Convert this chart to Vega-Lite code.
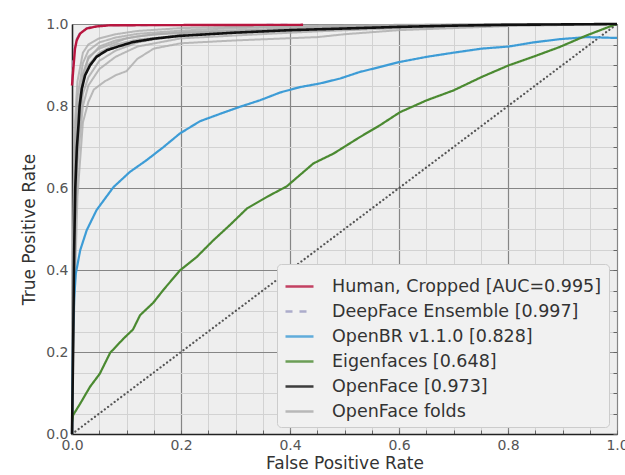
{
  "$schema": "https://vega.github.io/schema/vega-lite/v6.json",
  "width": 545,
  "height": 410,
  "autosize": {"type": "none"},
  "padding": {"left": 72, "top": 24, "right": 8, "bottom": 41},
  "background": "#ffffff",
  "config": {
    "font": "DejaVu Sans",
    "view": {"fill": "#eeeeee", "stroke": "#c8c8c8", "strokeWidth": 1},
    "axis": {"labelFont": "DejaVu Sans", "titleFont": "DejaVu Sans"},
    "legend": {
      "orient": "none",
      "legendX": 205,
      "legendY": 240,
      "padding": 7,
      "fillColor": "#f1f1f1",
      "strokeColor": "#cccccc",
      "cornerRadius": 4,
      "symbolType": "stroke",
      "symbolSize": 784,
      "symbolStrokeWidth": 2.5,
      "labelFontSize": 17.5,
      "labelColor": "#333333",
      "labelFont": "DejaVu Sans",
      "labelOffset": 17,
      "rowPadding": 1,
      "labelLimit": 400
    }
  },
  "datasets": {
    "diag": [{"fpr": 0, "tpr": 0}, {"fpr": 1, "tpr": 1}],
    "curves": [
      {"model": "OpenFace folds", "fold": 1, "fpr": 0, "tpr": 0},
      {"model": "OpenFace folds", "fold": 1, "fpr": 0.002, "tpr": 0.5},
      {"model": "OpenFace folds", "fold": 1, "fpr": 0.005, "tpr": 0.75},
      {"model": "OpenFace folds", "fold": 1, "fpr": 0.01, "tpr": 0.86},
      {"model": "OpenFace folds", "fold": 1, "fpr": 0.02, "tpr": 0.93},
      {"model": "OpenFace folds", "fold": 1, "fpr": 0.03, "tpr": 0.95},
      {"model": "OpenFace folds", "fold": 1, "fpr": 0.05, "tpr": 0.965},
      {"model": "OpenFace folds", "fold": 1, "fpr": 0.08, "tpr": 0.975},
      {"model": "OpenFace folds", "fold": 1, "fpr": 0.12, "tpr": 0.983},
      {"model": "OpenFace folds", "fold": 1, "fpr": 0.2, "tpr": 0.99},
      {"model": "OpenFace folds", "fold": 1, "fpr": 0.3, "tpr": 0.993},
      {"model": "OpenFace folds", "fold": 1, "fpr": 0.45, "tpr": 0.996},
      {"model": "OpenFace folds", "fold": 1, "fpr": 0.6, "tpr": 0.998},
      {"model": "OpenFace folds", "fold": 1, "fpr": 0.8, "tpr": 1},
      {"model": "OpenFace folds", "fold": 1, "fpr": 1, "tpr": 1},
      {"model": "OpenFace folds", "fold": 2, "fpr": 0, "tpr": 0},
      {"model": "OpenFace folds", "fold": 2, "fpr": 0.002, "tpr": 0.45},
      {"model": "OpenFace folds", "fold": 2, "fpr": 0.005, "tpr": 0.7},
      {"model": "OpenFace folds", "fold": 2, "fpr": 0.01, "tpr": 0.82},
      {"model": "OpenFace folds", "fold": 2, "fpr": 0.02, "tpr": 0.905},
      {"model": "OpenFace folds", "fold": 2, "fpr": 0.03, "tpr": 0.935},
      {"model": "OpenFace folds", "fold": 2, "fpr": 0.05, "tpr": 0.955},
      {"model": "OpenFace folds", "fold": 2, "fpr": 0.08, "tpr": 0.967},
      {"model": "OpenFace folds", "fold": 2, "fpr": 0.12, "tpr": 0.976},
      {"model": "OpenFace folds", "fold": 2, "fpr": 0.2, "tpr": 0.984},
      {"model": "OpenFace folds", "fold": 2, "fpr": 0.3, "tpr": 0.99},
      {"model": "OpenFace folds", "fold": 2, "fpr": 0.45, "tpr": 0.994},
      {"model": "OpenFace folds", "fold": 2, "fpr": 0.6, "tpr": 0.997},
      {"model": "OpenFace folds", "fold": 2, "fpr": 0.8, "tpr": 0.999},
      {"model": "OpenFace folds", "fold": 2, "fpr": 1, "tpr": 1},
      {"model": "OpenFace folds", "fold": 3, "fpr": 0, "tpr": 0},
      {"model": "OpenFace folds", "fold": 3, "fpr": 0.002, "tpr": 0.4},
      {"model": "OpenFace folds", "fold": 3, "fpr": 0.005, "tpr": 0.62},
      {"model": "OpenFace folds", "fold": 3, "fpr": 0.01, "tpr": 0.78},
      {"model": "OpenFace folds", "fold": 3, "fpr": 0.02, "tpr": 0.88},
      {"model": "OpenFace folds", "fold": 3, "fpr": 0.03, "tpr": 0.915},
      {"model": "OpenFace folds", "fold": 3, "fpr": 0.05, "tpr": 0.945},
      {"model": "OpenFace folds", "fold": 3, "fpr": 0.08, "tpr": 0.96},
      {"model": "OpenFace folds", "fold": 3, "fpr": 0.12, "tpr": 0.97},
      {"model": "OpenFace folds", "fold": 3, "fpr": 0.2, "tpr": 0.98},
      {"model": "OpenFace folds", "fold": 3, "fpr": 0.3, "tpr": 0.985},
      {"model": "OpenFace folds", "fold": 3, "fpr": 0.45, "tpr": 0.99},
      {"model": "OpenFace folds", "fold": 3, "fpr": 0.6, "tpr": 0.995},
      {"model": "OpenFace folds", "fold": 3, "fpr": 0.8, "tpr": 0.999},
      {"model": "OpenFace folds", "fold": 3, "fpr": 1, "tpr": 1},
      {"model": "OpenFace folds", "fold": 4, "fpr": 0, "tpr": 0},
      {"model": "OpenFace folds", "fold": 4, "fpr": 0.002, "tpr": 0.3},
      {"model": "OpenFace folds", "fold": 4, "fpr": 0.005, "tpr": 0.5},
      {"model": "OpenFace folds", "fold": 4, "fpr": 0.01, "tpr": 0.7},
      {"model": "OpenFace folds", "fold": 4, "fpr": 0.02, "tpr": 0.83},
      {"model": "OpenFace folds", "fold": 4, "fpr": 0.03, "tpr": 0.87},
      {"model": "OpenFace folds", "fold": 4, "fpr": 0.05, "tpr": 0.91},
      {"model": "OpenFace folds", "fold": 4, "fpr": 0.08, "tpr": 0.935},
      {"model": "OpenFace folds", "fold": 4, "fpr": 0.12, "tpr": 0.955},
      {"model": "OpenFace folds", "fold": 4, "fpr": 0.2, "tpr": 0.975},
      {"model": "OpenFace folds", "fold": 4, "fpr": 0.3, "tpr": 0.982},
      {"model": "OpenFace folds", "fold": 4, "fpr": 0.45, "tpr": 0.99},
      {"model": "OpenFace folds", "fold": 4, "fpr": 0.6, "tpr": 0.994},
      {"model": "OpenFace folds", "fold": 4, "fpr": 0.8, "tpr": 0.998},
      {"model": "OpenFace folds", "fold": 4, "fpr": 1, "tpr": 1},
      {"model": "OpenFace folds", "fold": 5, "fpr": 0, "tpr": 0},
      {"model": "OpenFace folds", "fold": 5, "fpr": 0.002, "tpr": 0.25},
      {"model": "OpenFace folds", "fold": 5, "fpr": 0.005, "tpr": 0.45},
      {"model": "OpenFace folds", "fold": 5, "fpr": 0.01, "tpr": 0.66},
      {"model": "OpenFace folds", "fold": 5, "fpr": 0.02, "tpr": 0.8},
      {"model": "OpenFace folds", "fold": 5, "fpr": 0.03, "tpr": 0.85},
      {"model": "OpenFace folds", "fold": 5, "fpr": 0.05, "tpr": 0.89},
      {"model": "OpenFace folds", "fold": 5, "fpr": 0.08, "tpr": 0.92},
      {"model": "OpenFace folds", "fold": 5, "fpr": 0.12, "tpr": 0.945},
      {"model": "OpenFace folds", "fold": 5, "fpr": 0.2, "tpr": 0.965},
      {"model": "OpenFace folds", "fold": 5, "fpr": 0.3, "tpr": 0.972},
      {"model": "OpenFace folds", "fold": 5, "fpr": 0.45, "tpr": 0.982},
      {"model": "OpenFace folds", "fold": 5, "fpr": 0.6, "tpr": 0.99},
      {"model": "OpenFace folds", "fold": 5, "fpr": 0.8, "tpr": 0.997},
      {"model": "OpenFace folds", "fold": 5, "fpr": 1, "tpr": 1},
      {"model": "OpenFace folds", "fold": 6, "fpr": 0, "tpr": 0},
      {"model": "OpenFace folds", "fold": 6, "fpr": 0.002, "tpr": 0.2},
      {"model": "OpenFace folds", "fold": 6, "fpr": 0.005, "tpr": 0.35},
      {"model": "OpenFace folds", "fold": 6, "fpr": 0.01, "tpr": 0.58},
      {"model": "OpenFace folds", "fold": 6, "fpr": 0.02, "tpr": 0.76},
      {"model": "OpenFace folds", "fold": 6, "fpr": 0.03, "tpr": 0.81},
      {"model": "OpenFace folds", "fold": 6, "fpr": 0.04, "tpr": 0.84},
      {"model": "OpenFace folds", "fold": 6, "fpr": 0.06, "tpr": 0.86},
      {"model": "OpenFace folds", "fold": 6, "fpr": 0.08, "tpr": 0.875},
      {"model": "OpenFace folds", "fold": 6, "fpr": 0.1, "tpr": 0.885},
      {"model": "OpenFace folds", "fold": 6, "fpr": 0.12, "tpr": 0.915},
      {"model": "OpenFace folds", "fold": 6, "fpr": 0.15, "tpr": 0.94},
      {"model": "OpenFace folds", "fold": 6, "fpr": 0.2, "tpr": 0.953},
      {"model": "OpenFace folds", "fold": 6, "fpr": 0.3, "tpr": 0.96},
      {"model": "OpenFace folds", "fold": 6, "fpr": 0.45, "tpr": 0.968},
      {"model": "OpenFace folds", "fold": 6, "fpr": 0.5, "tpr": 0.975},
      {"model": "OpenFace folds", "fold": 6, "fpr": 0.6, "tpr": 0.985},
      {"model": "OpenFace folds", "fold": 6, "fpr": 0.8, "tpr": 0.995},
      {"model": "OpenFace folds", "fold": 6, "fpr": 1, "tpr": 1},
      {"model": "OpenFace folds", "fold": 7, "fpr": 0, "tpr": 0},
      {"model": "OpenFace folds", "fold": 7, "fpr": 0.002, "tpr": 0.35},
      {"model": "OpenFace folds", "fold": 7, "fpr": 0.005, "tpr": 0.6},
      {"model": "OpenFace folds", "fold": 7, "fpr": 0.01, "tpr": 0.76},
      {"model": "OpenFace folds", "fold": 7, "fpr": 0.02, "tpr": 0.86},
      {"model": "OpenFace folds", "fold": 7, "fpr": 0.03, "tpr": 0.9},
      {"model": "OpenFace folds", "fold": 7, "fpr": 0.05, "tpr": 0.93},
      {"model": "OpenFace folds", "fold": 7, "fpr": 0.08, "tpr": 0.95},
      {"model": "OpenFace folds", "fold": 7, "fpr": 0.12, "tpr": 0.962},
      {"model": "OpenFace folds", "fold": 7, "fpr": 0.2, "tpr": 0.972},
      {"model": "OpenFace folds", "fold": 7, "fpr": 0.3, "tpr": 0.978},
      {"model": "OpenFace folds", "fold": 7, "fpr": 0.45, "tpr": 0.985},
      {"model": "OpenFace folds", "fold": 7, "fpr": 0.6, "tpr": 0.992},
      {"model": "OpenFace folds", "fold": 7, "fpr": 0.8, "tpr": 0.998},
      {"model": "OpenFace folds", "fold": 7, "fpr": 1, "tpr": 1},
      {"model": "OpenFace folds", "fold": 8, "fpr": 0, "tpr": 0},
      {"model": "OpenFace folds", "fold": 8, "fpr": 0.002, "tpr": 0.38},
      {"model": "OpenFace folds", "fold": 8, "fpr": 0.005, "tpr": 0.55},
      {"model": "OpenFace folds", "fold": 8, "fpr": 0.01, "tpr": 0.72},
      {"model": "OpenFace folds", "fold": 8, "fpr": 0.02, "tpr": 0.87},
      {"model": "OpenFace folds", "fold": 8, "fpr": 0.03, "tpr": 0.92},
      {"model": "OpenFace folds", "fold": 8, "fpr": 0.05, "tpr": 0.94},
      {"model": "OpenFace folds", "fold": 8, "fpr": 0.07, "tpr": 0.95},
      {"model": "OpenFace folds", "fold": 8, "fpr": 0.1, "tpr": 0.965},
      {"model": "OpenFace folds", "fold": 8, "fpr": 0.15, "tpr": 0.975},
      {"model": "OpenFace folds", "fold": 8, "fpr": 0.2, "tpr": 0.978},
      {"model": "OpenFace folds", "fold": 8, "fpr": 0.3, "tpr": 0.983},
      {"model": "OpenFace folds", "fold": 8, "fpr": 0.45, "tpr": 0.99},
      {"model": "OpenFace folds", "fold": 8, "fpr": 0.6, "tpr": 0.995},
      {"model": "OpenFace folds", "fold": 8, "fpr": 0.8, "tpr": 0.999},
      {"model": "OpenFace folds", "fold": 8, "fpr": 1, "tpr": 1},

      {"model": "DeepFace Ensemble [0.997]", "fold": 0, "fpr": 0, "tpr": 0.86},
      {"model": "DeepFace Ensemble [0.997]", "fold": 0, "fpr": 0.002, "tpr": 0.91},
      {"model": "DeepFace Ensemble [0.997]", "fold": 0, "fpr": 0.0055, "tpr": 0.945},
      {"model": "DeepFace Ensemble [0.997]", "fold": 0, "fpr": 0.0086, "tpr": 0.963},
      {"model": "DeepFace Ensemble [0.997]", "fold": 0, "fpr": 0.015, "tpr": 0.979},
      {"model": "DeepFace Ensemble [0.997]", "fold": 0, "fpr": 0.027, "tpr": 0.99},
      {"model": "DeepFace Ensemble [0.997]", "fold": 0, "fpr": 0.045, "tpr": 0.995},
      {"model": "DeepFace Ensemble [0.997]", "fold": 0, "fpr": 0.07, "tpr": 0.997},
      {"model": "DeepFace Ensemble [0.997]", "fold": 0, "fpr": 0.4, "tpr": 0.998},

      {"model": "OpenBR v1.1.0 [0.828]", "fold": 0, "fpr": 0, "tpr": 0},
      {"model": "OpenBR v1.1.0 [0.828]", "fold": 0, "fpr": 0.002, "tpr": 0.25},
      {"model": "OpenBR v1.1.0 [0.828]", "fold": 0, "fpr": 0.004, "tpr": 0.33},
      {"model": "OpenBR v1.1.0 [0.828]", "fold": 0, "fpr": 0.007, "tpr": 0.391},
      {"model": "OpenBR v1.1.0 [0.828]", "fold": 0, "fpr": 0.015, "tpr": 0.448},
      {"model": "OpenBR v1.1.0 [0.828]", "fold": 0, "fpr": 0.027, "tpr": 0.497},
      {"model": "OpenBR v1.1.0 [0.828]", "fold": 0, "fpr": 0.045, "tpr": 0.546},
      {"model": "OpenBR v1.1.0 [0.828]", "fold": 0, "fpr": 0.076, "tpr": 0.602},
      {"model": "OpenBR v1.1.0 [0.828]", "fold": 0, "fpr": 0.106, "tpr": 0.639},
      {"model": "OpenBR v1.1.0 [0.828]", "fold": 0, "fpr": 0.137, "tpr": 0.668},
      {"model": "OpenBR v1.1.0 [0.828]", "fold": 0, "fpr": 0.168, "tpr": 0.7},
      {"model": "OpenBR v1.1.0 [0.828]", "fold": 0, "fpr": 0.198, "tpr": 0.733},
      {"model": "OpenBR v1.1.0 [0.828]", "fold": 0, "fpr": 0.235, "tpr": 0.763},
      {"model": "OpenBR v1.1.0 [0.828]", "fold": 0, "fpr": 0.272, "tpr": 0.781},
      {"model": "OpenBR v1.1.0 [0.828]", "fold": 0, "fpr": 0.308, "tpr": 0.798},
      {"model": "OpenBR v1.1.0 [0.828]", "fold": 0, "fpr": 0.345, "tpr": 0.814},
      {"model": "OpenBR v1.1.0 [0.828]", "fold": 0, "fpr": 0.382, "tpr": 0.833},
      {"model": "OpenBR v1.1.0 [0.828]", "fold": 0, "fpr": 0.418, "tpr": 0.846},
      {"model": "OpenBR v1.1.0 [0.828]", "fold": 0, "fpr": 0.455, "tpr": 0.855},
      {"model": "OpenBR v1.1.0 [0.828]", "fold": 0, "fpr": 0.492, "tpr": 0.867},
      {"model": "OpenBR v1.1.0 [0.828]", "fold": 0, "fpr": 0.528, "tpr": 0.883},
      {"model": "OpenBR v1.1.0 [0.828]", "fold": 0, "fpr": 0.565, "tpr": 0.895},
      {"model": "OpenBR v1.1.0 [0.828]", "fold": 0, "fpr": 0.6, "tpr": 0.907},
      {"model": "OpenBR v1.1.0 [0.828]", "fold": 0, "fpr": 0.651, "tpr": 0.92},
      {"model": "OpenBR v1.1.0 [0.828]", "fold": 0, "fpr": 0.7, "tpr": 0.93},
      {"model": "OpenBR v1.1.0 [0.828]", "fold": 0, "fpr": 0.752, "tpr": 0.94},
      {"model": "OpenBR v1.1.0 [0.828]", "fold": 0, "fpr": 0.801, "tpr": 0.945},
      {"model": "OpenBR v1.1.0 [0.828]", "fold": 0, "fpr": 0.846, "tpr": 0.955},
      {"model": "OpenBR v1.1.0 [0.828]", "fold": 0, "fpr": 0.895, "tpr": 0.963},
      {"model": "OpenBR v1.1.0 [0.828]", "fold": 0, "fpr": 0.944, "tpr": 0.968},
      {"model": "OpenBR v1.1.0 [0.828]", "fold": 0, "fpr": 1, "tpr": 0.966},

      {"model": "Eigenfaces [0.648]", "fold": 0, "fpr": 0, "tpr": 0.03},
      {"model": "Eigenfaces [0.648]", "fold": 0, "fpr": 0.002, "tpr": 0.046},
      {"model": "Eigenfaces [0.648]", "fold": 0, "fpr": 0.015, "tpr": 0.074},
      {"model": "Eigenfaces [0.648]", "fold": 0, "fpr": 0.033, "tpr": 0.115},
      {"model": "Eigenfaces [0.648]", "fold": 0, "fpr": 0.051, "tpr": 0.147},
      {"model": "Eigenfaces [0.648]", "fold": 0, "fpr": 0.07, "tpr": 0.198},
      {"model": "Eigenfaces [0.648]", "fold": 0, "fpr": 0.094, "tpr": 0.232},
      {"model": "Eigenfaces [0.648]", "fold": 0, "fpr": 0.112, "tpr": 0.255},
      {"model": "Eigenfaces [0.648]", "fold": 0, "fpr": 0.125, "tpr": 0.29},
      {"model": "Eigenfaces [0.648]", "fold": 0, "fpr": 0.149, "tpr": 0.32},
      {"model": "Eigenfaces [0.648]", "fold": 0, "fpr": 0.168, "tpr": 0.352},
      {"model": "Eigenfaces [0.648]", "fold": 0, "fpr": 0.198, "tpr": 0.399},
      {"model": "Eigenfaces [0.648]", "fold": 0, "fpr": 0.229, "tpr": 0.432},
      {"model": "Eigenfaces [0.648]", "fold": 0, "fpr": 0.259, "tpr": 0.472},
      {"model": "Eigenfaces [0.648]", "fold": 0, "fpr": 0.29, "tpr": 0.51},
      {"model": "Eigenfaces [0.648]", "fold": 0, "fpr": 0.321, "tpr": 0.55},
      {"model": "Eigenfaces [0.648]", "fold": 0, "fpr": 0.36, "tpr": 0.58},
      {"model": "Eigenfaces [0.648]", "fold": 0, "fpr": 0.394, "tpr": 0.604},
      {"model": "Eigenfaces [0.648]", "fold": 0, "fpr": 0.443, "tpr": 0.66},
      {"model": "Eigenfaces [0.648]", "fold": 0, "fpr": 0.48, "tpr": 0.684},
      {"model": "Eigenfaces [0.648]", "fold": 0, "fpr": 0.528, "tpr": 0.724},
      {"model": "Eigenfaces [0.648]", "fold": 0, "fpr": 0.565, "tpr": 0.753},
      {"model": "Eigenfaces [0.648]", "fold": 0, "fpr": 0.602, "tpr": 0.785},
      {"model": "Eigenfaces [0.648]", "fold": 0, "fpr": 0.651, "tpr": 0.814},
      {"model": "Eigenfaces [0.648]", "fold": 0, "fpr": 0.7, "tpr": 0.838},
      {"model": "Eigenfaces [0.648]", "fold": 0, "fpr": 0.752, "tpr": 0.871},
      {"model": "Eigenfaces [0.648]", "fold": 0, "fpr": 0.801, "tpr": 0.899},
      {"model": "Eigenfaces [0.648]", "fold": 0, "fpr": 0.846, "tpr": 0.92},
      {"model": "Eigenfaces [0.648]", "fold": 0, "fpr": 0.895, "tpr": 0.944},
      {"model": "Eigenfaces [0.648]", "fold": 0, "fpr": 0.944, "tpr": 0.972},
      {"model": "Eigenfaces [0.648]", "fold": 0, "fpr": 0.993, "tpr": 0.997},
      {"model": "Eigenfaces [0.648]", "fold": 0, "fpr": 1, "tpr": 1},

      {"model": "OpenFace [0.973]", "fold": 0, "fpr": 0, "tpr": 0},
      {"model": "OpenFace [0.973]", "fold": 0, "fpr": 0.002, "tpr": 0.2},
      {"model": "OpenFace [0.973]", "fold": 0, "fpr": 0.004, "tpr": 0.45},
      {"model": "OpenFace [0.973]", "fold": 0, "fpr": 0.006, "tpr": 0.6},
      {"model": "OpenFace [0.973]", "fold": 0, "fpr": 0.009, "tpr": 0.7},
      {"model": "OpenFace [0.973]", "fold": 0, "fpr": 0.012, "tpr": 0.755},
      {"model": "OpenFace [0.973]", "fold": 0, "fpr": 0.014, "tpr": 0.8},
      {"model": "OpenFace [0.973]", "fold": 0, "fpr": 0.018, "tpr": 0.842},
      {"model": "OpenFace [0.973]", "fold": 0, "fpr": 0.024, "tpr": 0.875},
      {"model": "OpenFace [0.973]", "fold": 0, "fpr": 0.033, "tpr": 0.899},
      {"model": "OpenFace [0.973]", "fold": 0, "fpr": 0.045, "tpr": 0.92},
      {"model": "OpenFace [0.973]", "fold": 0, "fpr": 0.064, "tpr": 0.936},
      {"model": "OpenFace [0.973]", "fold": 0, "fpr": 0.082, "tpr": 0.944},
      {"model": "OpenFace [0.973]", "fold": 0, "fpr": 0.112, "tpr": 0.956},
      {"model": "OpenFace [0.973]", "fold": 0, "fpr": 0.149, "tpr": 0.964},
      {"model": "OpenFace [0.973]", "fold": 0, "fpr": 0.198, "tpr": 0.971},
      {"model": "OpenFace [0.973]", "fold": 0, "fpr": 0.3, "tpr": 0.979},
      {"model": "OpenFace [0.973]", "fold": 0, "fpr": 0.4, "tpr": 0.985},
      {"model": "OpenFace [0.973]", "fold": 0, "fpr": 0.5, "tpr": 0.989},
      {"model": "OpenFace [0.973]", "fold": 0, "fpr": 0.6, "tpr": 0.993},
      {"model": "OpenFace [0.973]", "fold": 0, "fpr": 0.7, "tpr": 0.996},
      {"model": "OpenFace [0.973]", "fold": 0, "fpr": 0.8, "tpr": 0.998},
      {"model": "OpenFace [0.973]", "fold": 0, "fpr": 1, "tpr": 1},

      {"model": "Human, Cropped [AUC=0.995]", "fold": 0, "fpr": 0, "tpr": 0.85},
      {"model": "Human, Cropped [AUC=0.995]", "fold": 0, "fpr": 0.003, "tpr": 0.9},
      {"model": "Human, Cropped [AUC=0.995]", "fold": 0, "fpr": 0.0055, "tpr": 0.94},
      {"model": "Human, Cropped [AUC=0.995]", "fold": 0, "fpr": 0.0086, "tpr": 0.96},
      {"model": "Human, Cropped [AUC=0.995]", "fold": 0, "fpr": 0.015, "tpr": 0.977},
      {"model": "Human, Cropped [AUC=0.995]", "fold": 0, "fpr": 0.027, "tpr": 0.989},
      {"model": "Human, Cropped [AUC=0.995]", "fold": 0, "fpr": 0.045, "tpr": 0.994},
      {"model": "Human, Cropped [AUC=0.995]", "fold": 0, "fpr": 0.07, "tpr": 0.997},
      {"model": "Human, Cropped [AUC=0.995]", "fold": 0, "fpr": 0.424, "tpr": 0.998}
    ]
  },
  "resolve": {"axis": {"x": "independent", "y": "independent"}},
  "layer": [
    {
      "data": {"name": "diag"},
      "mark": {"type": "line", "color": "#555555", "strokeDash": [0.1, 4], "strokeCap": "round", "strokeWidth": 2.2},
      "encoding": {
        "x": {"field": "fpr", "type": "quantitative", "scale": {"domain": [0, 1], "nice": false},
          "axis": {"orient": "bottom", "values": [0, 0.05, 0.1, 0.15, 0.2, 0.25, 0.3, 0.35, 0.4, 0.45, 0.5, 0.55, 0.6, 0.65, 0.7, 0.75, 0.8, 0.85, 0.9, 0.95, 1],
            "grid": true, "gridColor": "#d2d2d2", "gridWidth": 1, "labels": false, "domain": false, "ticks": true, "tickSize": -4, "tickColor": "#666666", "title": null}},
        "y": {"field": "tpr", "type": "quantitative", "scale": {"domain": [0, 1], "nice": false},
          "axis": {"orient": "right", "values": [0, 0.05, 0.1, 0.15, 0.2, 0.25, 0.3, 0.35, 0.4, 0.45, 0.5, 0.55, 0.6, 0.65, 0.7, 0.75, 0.8, 0.85, 0.9, 0.95, 1],
            "grid": true, "gridColor": "#d2d2d2", "gridWidth": 1, "labels": false, "domain": false, "ticks": true, "tickSize": -4, "tickColor": "#666666", "title": null}}
      }
    },
    {
      "data": {"name": "curves"},
      "encoding": {
        "x": {"field": "fpr", "type": "quantitative", "scale": {"domain": [0, 1], "nice": false},
          "axis": {"orient": "bottom", "values": [0, 0.2, 0.4, 0.6, 0.8, 1], "format": ".1f", "grid": true, "gridColor": "#858585", "gridWidth": 1.2,
            "ticks": false, "labelPadding": 4, "labelFontSize": 14, "labelColor": "#555555", "labelFlush": false, "labelOverlap": false,
            "domain": true, "domainColor": "#222222", "domainWidth": 1.5,
            "title": "False Positive Rate", "titleFontSize": 17, "titleFontWeight": "normal", "titleColor": "#333333", "titlePadding": 3}},
        "y": {"field": "tpr", "type": "quantitative", "scale": {"domain": [0, 1], "nice": false},
          "axis": {"orient": "left", "values": [0, 0.2, 0.4, 0.6, 0.8, 1], "format": ".1f", "grid": true, "gridColor": "#858585", "gridWidth": 1.2,
            "ticks": false, "labelPadding": 4, "labelFontSize": 14, "labelColor": "#555555", "labelFlush": false, "labelOverlap": false, "labelBaseline": "middle",
            "domain": true, "domainColor": "#222222", "domainWidth": 1.5,
            "title": "True Positive Rate", "titleFontSize": 17, "titleFontWeight": "normal", "titleColor": "#333333", "titlePadding": 7}},
        "color": {"field": "model", "type": "nominal", "legend": {"title": null},
          "scale": {"domain": ["Human, Cropped [AUC=0.995]", "DeepFace Ensemble [0.997]", "OpenBR v1.1.0 [0.828]", "Eigenfaces [0.648]", "OpenFace [0.973]", "OpenFace folds"],
            "range": ["#b8163f", "#9c9cc2", "#3d9cd6", "#4b8a31", "#111111", "#aaaaaa"]}},
        "strokeDash": {"field": "model", "type": "nominal", "legend": {"title": null},
          "scale": {"domain": ["Human, Cropped [AUC=0.995]", "DeepFace Ensemble [0.997]", "OpenBR v1.1.0 [0.828]", "Eigenfaces [0.648]", "OpenFace [0.973]", "OpenFace folds"],
            "range": [[1, 0], [7, 7], [1, 0], [1, 0], [1, 0], [1, 0]]}}
      },
      "layer": [
        {"transform": [{"filter": "datum.model === 'OpenFace folds'"}],
         "mark": {"type": "line", "strokeWidth": 2, "opacity": 0.8},
         "encoding": {"detail": {"field": "fold", "type": "nominal"}}},
        {"transform": [{"filter": "datum.model === 'DeepFace Ensemble [0.997]'"}],
         "mark": {"type": "line", "strokeWidth": 2}},
        {"transform": [{"filter": "datum.model === 'OpenBR v1.1.0 [0.828]'"}],
         "mark": {"type": "line", "strokeWidth": 2.2}},
        {"transform": [{"filter": "datum.model === 'Eigenfaces [0.648]'"}],
         "mark": {"type": "line", "strokeWidth": 2.2}},
        {"transform": [{"filter": "datum.model === 'OpenFace [0.973]'"}],
         "mark": {"type": "line", "strokeWidth": 2.6}},
        {"transform": [{"filter": "datum.model === 'Human, Cropped [AUC=0.995]'"}],
         "mark": {"type": "line", "strokeWidth": 2.4}}
      ]
    }
  ]
}
